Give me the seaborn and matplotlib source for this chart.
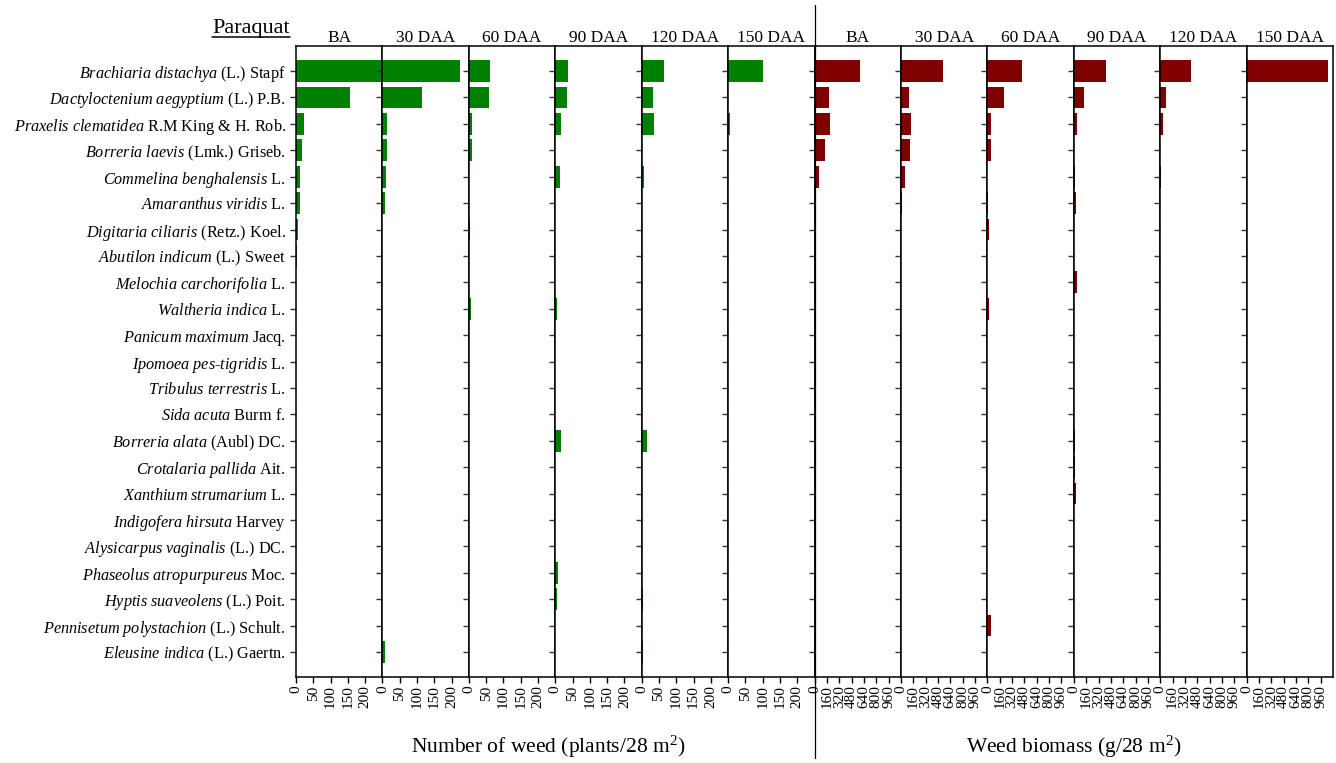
import pandas as pd
import seaborn as sns
import matplotlib.pyplot as plt
from matplotlib.lines import Line2D

# species (italic part, authority part), top to bottom
genus_species = ['Brachiaria distachya', 'Dactyloctenium aegyptium', 'Praxelis clematidea',
                 'Borreria laevis', 'Commelina benghalensis', 'Amaranthus viridis',
                 'Digitaria ciliaris', 'Abutilon indicum', 'Melochia carchorifolia',
                 'Waltheria indica', 'Panicum maximum', 'Ipomoea pes-tigridis',
                 'Tribulus terrestris', 'Sida acuta', 'Borreria alata', 'Crotalaria pallida',
                 'Xanthium strumarium', 'Indigofera hirsuta', 'Alysicarpus vaginalis',
                 'Phaseolus atropurpureus', 'Hyptis suaveolens', 'Pennisetum polystachion',
                 'Eleusine indica']
authority = ['(L.) Stapf', '(L.) P.B.', 'R.M King & H. Rob.', '(Lmk.) Griseb.', 'L.', 'L.',
             '(Retz.) Koel.', '(L.) Sweet', 'L.', 'L.', 'Jacq.', 'L.', 'L.', 'Burm f.',
             '(Aubl) DC.', 'Ait.', 'L.', 'Harvey', '(L.) DC.', 'Moc.', '(L.) Poit.',
             '(L.) Schult.', '(L.) Gaertn.']

periods = ['BA', '30 DAA', '60 DAA', '90 DAA', '120 DAA', '150 DAA']

# number of weed (plants/28 m2)
num_ba = [262, 155, 24, 18, 12, 10, 7, 4, 0, 0, 0, 0, 0, 0, 0, 0, 0, 0, 0, 0, 0, 0, 0]
num_30 = [224, 115, 13, 14, 10, 7, 0, 0, 0, 0, 0, 0, 0, 0, 0, 0, 0, 0, 0, 0, 0, 0, 6]
num_60 = [61, 59, 9, 9, 0, 0, 4, 0, 0, 7, 0, 0, 0, 0, 0, 0, 0, 0, 0, 0, 0, 0, 0]
num_90 = [38, 35, 17, 0, 15, 0, 0, 0, 0, 5, 0, 0, 0, 0, 16, 0, 0, 0, 0, 7, 6, 0, 0]
num_120 = [65, 32, 35, 0, 8, 0, 0, 0, 0, 0, 0, 0, 0, 0, 14, 0, 0, 0, 0, 0, 4, 0, 4]
num_150 = [102, 0, 5, 0, 0, 0, 0, 0, 0, 0, 0, 0, 0, 0, 0, 0, 0, 0, 0, 0, 0, 0, 0]

# weed biomass (g/28 m2)
bio_ba = [584, 184, 198, 132, 60, 20, 0, 0, 0, 0, 0, 0, 0, 0, 0, 0, 0, 0, 0, 0, 0, 0, 0]
bio_30 = [549, 105, 136, 123, 50, 17, 0, 0, 0, 0, 0, 0, 0, 0, 0, 0, 0, 0, 0, 0, 0, 0, 0]
bio_60 = [443, 211, 53, 48, 0, 12, 22, 0, 0, 17, 0, 0, 0, 0, 0, 0, 0, 0, 0, 0, 0, 43, 0]
bio_90 = [413, 132, 35, 0, 17, 22, 0, 0, 39, 0, 0, 0, 0, 0, 20, 20, 24, 0, 0, 0, 0, 0, 0]
bio_120 = [395, 70, 40, 0, 13, 0, 0, 0, 0, 0, 0, 0, 0, 0, 0, 0, 0, 0, 0, 0, 0, 0, 0]
bio_150 = [1054, 0, 0, 0, 0, 0, 0, 0, 0, 0, 0, 0, 0, 0, 0, 0, 0, 0, 0, 0, 0, 0, 0]

num_cols = [num_ba, num_30, num_60, num_90, num_120, num_150]
bio_cols = [bio_ba, bio_30, bio_60, bio_90, bio_120, bio_150]

sns.set_style('ticks')
plt.rcParams['font.family'] = ['Liberation Serif', 'DejaVu Serif']
plt.rcParams['mathtext.fontset'] = 'custom'
plt.rcParams['mathtext.rm'] = 'Liberation Serif'
plt.rcParams['mathtext.it'] = 'Liberation Serif:italic'
plt.rcParams['text.color'] = 'black'
plt.rcParams['xtick.color'] = 'black'
plt.rcParams['ytick.color'] = 'black'
plt.rcParams['axes.labelcolor'] = 'black'


def sci_label(gs, auth):
    parts = ['$\\mathit{' + p.replace(' ', '\\ ') + '}$' for p in gs.split('-')]
    return '-'.join(parts) + ' ' + auth


labels = [sci_label(g, a) for g, a in zip(genus_species, authority)]

rows = []
for kind, cols in [('num', num_cols), ('bio', bio_cols)]:
    for p, vals in zip(periods, cols):
        for sp, v in zip(genus_species, vals):
            rows.append({'kind': kind, 'period': p, 'species': sp, 'value': v})
df = pd.DataFrame(rows)

fig, axes = plt.subplots(1, 12, figsize=(13.36, 7.63), dpi=100)
plt.subplots_adjust(left=0.2216, right=0.9978, top=0.9397, bottom=0.1127, wspace=0)

for i, ax in enumerate(axes):
    kind = 'num' if i < 6 else 'bio'
    p = periods[i % 6]
    sub = df[(df['kind'] == kind) & (df['period'] == p)]
    sns.barplot(data=sub, x='value', y='species', order=genus_species, orient='h',
                color='#008000' if kind == 'num' else '#800000', saturation=1,
                width=0.82, linewidth=0, ax=ax)
    if kind == 'num':
        ax.set_xlim(0, 250)
        ax.set_xticks([0, 50, 100, 150, 200])
    else:
        ax.set_xlim(0, 1120)
        ax.set_xticks(range(0, 961, 160))
    ax.set_ylim(22.95, -0.95)
    ax.set_xlabel('')
    ax.set_ylabel('')
    ax.set_title(p, fontsize=12.5, pad=3, color='black')
    ax.tick_params(axis='x', labelrotation=90, labelsize=11, length=4, width=1, pad=2)
    ax.tick_params(axis='y', length=4, width=1, color='#333333')
    if i == 0:
        ax.set_yticks(range(len(labels)))
        ax.set_yticklabels(labels, fontsize=11.7)
    else:
        ax.tick_params(labelleft=False)
    for s in ax.spines.values():
        s.set_linewidth(1.1)
        s.set_color('black')

# group axis titles
x0 = axes[0].get_position().x0
xm = axes[6].get_position().x0
x1 = axes[11].get_position().x1
fig.text((x0 + xm) / 2 - 0.005, 0.014, 'Number of weed (plants/28 m$^2$)', ha='center', fontsize=15.5)
fig.text((xm + x1) / 2, 0.014, 'Weed biomass (g/28 m$^2$)', ha='center', fontsize=15.5)

# separator between the two groups
fig.add_artist(Line2D([xm, xm], [0.006, 0.993], transform=fig.transFigure,
                      color='black', linewidth=0.9))

# underlined treatment name
t = fig.text(x0 - 0.0045, 0.962, 'Paraquat', ha='right', va='center', fontsize=16)
fig.canvas.draw()
bb = t.get_window_extent().transformed(fig.transFigure.inverted())
fig.add_artist(Line2D([bb.x0, bb.x1], [bb.y0 + 0.002, bb.y0 + 0.002],
                      transform=fig.transFigure, color='black', linewidth=1.1))

fig.savefig('out.png', dpi=100)
